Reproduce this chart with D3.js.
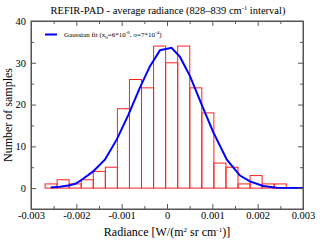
<!DOCTYPE html>
<html>
<head>
<meta charset="utf-8">
<script src="https://cdn.jsdelivr.net/npm/d3@7"></script>
<style>
  body { margin: 0; background: #fff; }
</style>
</head>
<body>
<div id="chart"></div>
<script>
// histogram data
var binStart = -0.00269
var binWidth = 0.000266
var counts = [1, 2, 1, 2, 4, 5, 19, 26, 24, 34, 30, 34, 24, 18, 6, 5, 1, 3, 1, 1]

// gaussian fit polyline
var fitX = [-0.002565, -0.00236, -0.00214, -0.00201, -0.00188, -0.00163, -0.00137, -0.00111, -0.00085, -0.0006,
  -0.000375, -0.000154, 0.0001, 0.000287, 0.000507, 0.000765, 0.00102, 0.00132, 0.00161, 0.00183, 0.00212, 0.00242, 0.003]
var fitY = [0.15, 0.3, 0.7, 1.1, 2.0, 4.0, 6.8, 11.6, 17.6, 24.0,
  29.2, 33.0, 33.6, 31.4, 26.8, 20.0, 13.4, 6.8, 3.0, 1.6, 0.5, 0.1, 0]

var xTicks = [-0.003, -0.002, -0.001, 0, 0.001, 0.002, 0.003]
var xMinor = [-0.0025, -0.0015, -0.0005, 0.0005, 0.0015, 0.0025]
var yTicks = [0, 10, 20, 30, 40]
var yMinor = [-5, 5, 15, 25, 35]

var serif = "Liberation Serif, DejaVu Serif, Times New Roman, serif"

var svgWidth = 320
var svgHeight = 241
var margin = {top: 21, right: 17, bottom: 32, left: 31}
var width = svgWidth - margin.left - margin.right
var height = svgHeight - margin.top - margin.bottom

var svg = d3.select("#chart").append("svg")
  .attr("width", svgWidth)
  .attr("height", svgHeight)
  .attr("font-family", serif)

var chartGroup = svg.append("g")
  .attr("transform", `translate(${margin.left}, ${margin.top})`)

var xScale = d3.scaleLinear().domain([-0.003, 0.003]).range([0, width])
var yScale = d3.scaleLinear().domain([-5, 40]).range([height, 0])

// bars
var bins = counts.map(function(c, i) {
  return {x0: binStart + i * binWidth, x1: binStart + (i + 1) * binWidth, n: c}
})

chartGroup.selectAll("rect.bar")
  .data(bins)
  .enter()
  .append("rect")
  .attr("class", "bar")
  .attr("x", d => xScale(d.x0))
  .attr("y", d => yScale(d.n))
  .attr("width", d => xScale(d.x1) - xScale(d.x0))
  .attr("height", d => yScale(0) - yScale(d.n))
  .attr("fill", "none")
  .attr("stroke", "#ff2020")
  .attr("stroke-width", 1)

// fit line
var fitData = fitX.map((x, i) => [x, fitY[i]])
chartGroup.append("path")
  .datum(fitData)
  .attr("fill", "none")
  .attr("stroke", "#0000ff")
  .attr("stroke-width", 2)
  .attr("d", d3.line().x(d => xScale(d[0])).y(d => yScale(d[1])))

// axes, ticks inward on all four sides
chartGroup.append("g")
  .attr("transform", `translate(0, ${height})`)
  .call(d3.axisBottom(xScale).tickValues(xTicks).tickSize(-5).tickPadding(3).tickFormat(d => d === 0 ? "0" : d3.format(".3f")(d).replace("\u2212", "-")))
chartGroup.append("g")
  .attr("transform", `translate(0, ${height})`)
  .call(d3.axisBottom(xScale).tickValues(xMinor).tickSize(-3).tickFormat(""))
chartGroup.append("g")
  .call(d3.axisTop(xScale).tickValues(xTicks).tickSize(-5).tickFormat(""))
chartGroup.append("g")
  .call(d3.axisTop(xScale).tickValues(xMinor).tickSize(-3).tickFormat(""))

chartGroup.append("g")
  .call(d3.axisLeft(yScale).tickValues(yTicks).tickSize(-5).tickPadding(5))
chartGroup.append("g")
  .call(d3.axisLeft(yScale).tickValues(yMinor).tickSize(-3).tickFormat(""))
chartGroup.append("g")
  .attr("transform", `translate(${width}, 0)`)
  .call(d3.axisRight(yScale).tickValues(yTicks).tickSize(-5).tickFormat(""))
chartGroup.append("g")
  .attr("transform", `translate(${width}, 0)`)
  .call(d3.axisRight(yScale).tickValues(yMinor).tickSize(-3).tickFormat(""))

chartGroup.selectAll("g").attr("font-family", serif)
chartGroup.selectAll(".domain").attr("stroke", "#555")
chartGroup.selectAll(".tick line").attr("stroke", "#555")
chartGroup.selectAll(".tick text").attr("font-size", 10.5).attr("fill", "#000")

chartGroup.append("rect")
  .attr("width", width).attr("height", height)
  .attr("fill", "none").attr("stroke", "#555")

// title
var title = svg.append("text")
  .attr("x", 168).attr("y", 14)
  .attr("text-anchor", "middle")
  .attr("font-size", 10.5)
title.append("tspan").text("REFIR-PAD - average radiance (828\u2013839 cm")
title.append("tspan").attr("dy", -4).attr("font-size", 6.5).text("-1")
title.append("tspan").attr("dy", 4).text(" interval)")

// legend
svg.append("line")
  .attr("x1", 45).attr("x2", 57).attr("y1", 34.5).attr("y2", 34.5)
  .attr("stroke", "#0000ff").attr("stroke-width", 2)
var leg = svg.append("text").attr("x", 64).attr("y", 37).attr("font-size", 7)
leg.append("tspan").text("Gaussian fit (x")
leg.append("tspan").attr("dy", 1.5).attr("font-size", 5).text("0")
leg.append("tspan").attr("dy", -1.5).text("=6*10")
leg.append("tspan").attr("dy", -3).attr("font-size", 5).text("-6")
leg.append("tspan").attr("dy", 3).text(", \u03c3=7*10")
leg.append("tspan").attr("dy", -3).attr("font-size", 5).text("-4")
leg.append("tspan").attr("dy", 3).text(")")

// axis labels
var xl = svg.append("text")
  .attr("x", 167).attr("y", 236)
  .attr("text-anchor", "middle")
  .attr("font-size", 12)
xl.append("tspan").text("Radiance [W/(m")
xl.append("tspan").attr("dy", -4).attr("font-size", 7).text("2")
xl.append("tspan").attr("dy", 4).text(" sr cm")
xl.append("tspan").attr("dy", -4).attr("font-size", 7).text("-1")
xl.append("tspan").attr("dy", 4).text(")]")

svg.append("text")
  .attr("transform", `translate(12, ${margin.top + height / 2}) rotate(-90)`)
  .attr("text-anchor", "middle")
  .attr("font-size", 12)
  .text("Number of samples")
</script>
</body>
</html>
